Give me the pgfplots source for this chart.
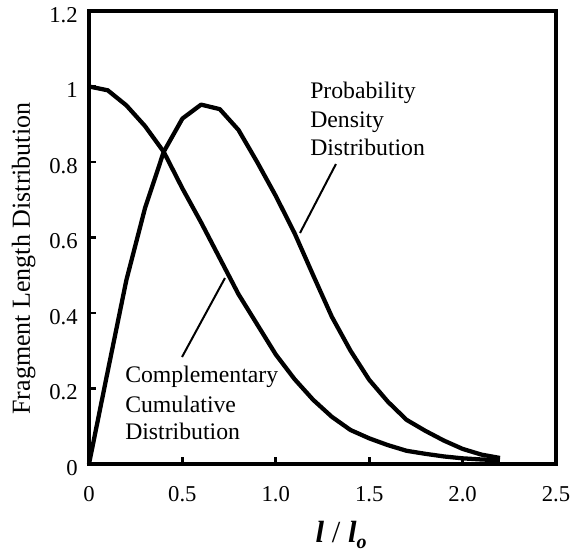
\documentclass[border=0pt]{standalone}
\usepackage{pgfplots}
\pgfplotsset{compat=1.18}
\usepackage{fontspec}
\setmainfont{Liberation Serif}
\begin{document}
\begin{tikzpicture}
\begin{axis}[
  scale only axis,
  width=350.25pt, height=339.75pt,
  xmin=0, xmax=2.5, ymin=0, ymax=1.2,
  axis line style={line width=3.2pt},
  tick pos=left, tick align=inside,
  major tick length=5pt,
  every tick/.style={line width=2.2pt, black},
  xtick={0,0.5,1,1.5,2,2.5},
  xticklabels={0,0.5,1.0,1.5,2.0,2.5},
  ytick={0,0.2,0.4,0.6,0.8,1,1.2},
  yticklabels={0,0.2,0.4,0.6,0.8,1,1.2},
  xticklabel style={font=\fontsize{17}{20}\selectfont, yshift=-13.5pt},
  yticklabel style={font=\fontsize{17}{20}\selectfont, xshift=-5pt, yshift=-3pt},
  clip=false,
]
\addplot[black, line width=3.2pt, line join=round] coordinates {
(0,0) (0.1,0.245) (0.2,0.487) (0.3,0.678) (0.4,0.827) (0.5,0.915) (0.6,0.952)
(0.7,0.94) (0.8,0.885) (0.9,0.80) (1.0,0.71) (1.1,0.612) (1.2,0.50) (1.3,0.39)
(1.4,0.30) (1.5,0.223) (1.6,0.165) (1.7,0.117) (1.8,0.088) (1.9,0.062) (2.0,0.04)
(2.1,0.025) (2.2,0.016)};
\addplot[black, line width=3.2pt, line join=round] coordinates {
(0,1.0) (0.1,0.99) (0.2,0.95) (0.3,0.895) (0.4,0.827) (0.5,0.73) (0.6,0.64)
(0.7,0.545) (0.8,0.45) (0.9,0.37) (1.0,0.29) (1.1,0.225) (1.2,0.17) (1.3,0.125)
(1.4,0.09) (1.5,0.068) (1.6,0.05) (1.7,0.035) (1.8,0.027) (1.9,0.02) (2.0,0.015)
(2.1,0.012) (2.2,0.01)};
\draw[line width=1.5pt] (axis cs:1.322,0.7947) -- (axis cs:1.1296,0.6119);
\draw[line width=1.5pt] (axis cs:0.728,0.4927) -- (axis cs:0.498,0.2834);
\begin{scope}[every node/.style={anchor=base west, inner sep=0pt, font=\fontsize{17.8}{21}\selectfont}]
\node at (axis cs:1.183,0.9695) {Probability};
\node at (axis cs:1.183,0.8927) {Density};
\node at (axis cs:1.183,0.8159) {Distribution};
\node at (axis cs:0.1927,0.2172) {Complementary};
\node at (axis cs:0.1927,0.1377) {Cumulative};
\node at (axis cs:0.1927,0.0662) {Distribution};
\end{scope}
\node[anchor=base, inner sep=0pt, font=\fontsize{23}{28}\selectfont] at (axis cs:1.35,-0.209) {\textbf{\textit{l}} / \textbf{\textit{l}}\raisebox{-4pt}{\fontsize{15}{18}\selectfont\textbf{\textit{o}}}};
\node[anchor=base, rotate=90, inner sep=0pt, font=\fontsize{19.5}{23}\selectfont] at (axis cs:-0.316,0.544) {Fragment Length Distribution};
\end{axis}
\pgfresetboundingbox
\path[use as bounding box] (-66.75pt,-66pt) rectangle (363.75pt,348pt);
\end{tikzpicture}
\end{document}
